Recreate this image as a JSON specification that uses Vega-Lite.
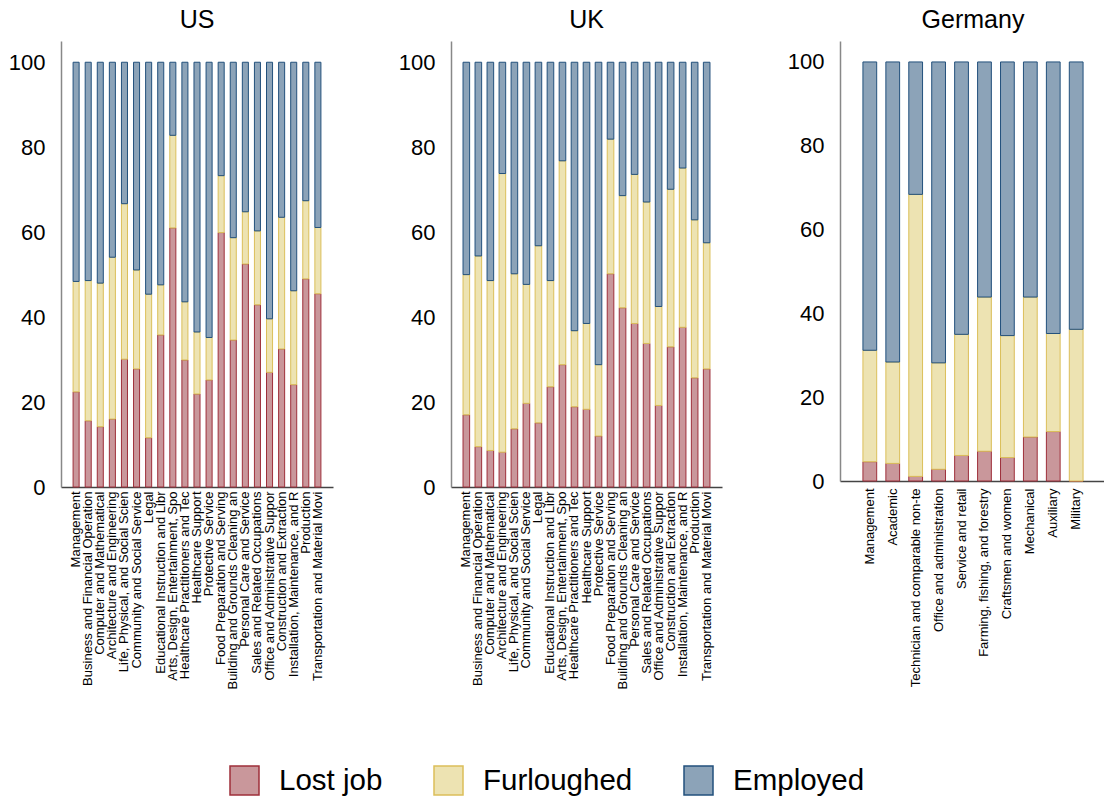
{
  "$schema": "https://vega.github.io/schema/vega-lite/v6.json",
  "background": "white",
  "padding": {"left": 8, "top": 8, "right": 0, "bottom": 0},
  "datasets": {
    "jobs": [
      {"country": "US", "occ": "Management", "Lost job": 22.4, "Furloughed": 26.0, "Employed": 51.6},
      {"country": "US", "occ": "Business and Financial Operation", "Lost job": 15.6, "Furloughed": 33.0, "Employed": 51.4},
      {"country": "US", "occ": "Computer and Mathematical", "Lost job": 14.2, "Furloughed": 33.8, "Employed": 52.0},
      {"country": "US", "occ": "Architecture and Engineering", "Lost job": 16.0, "Furloughed": 38.1, "Employed": 45.9},
      {"country": "US", "occ": "Life, Physical, and Social Scien", "Lost job": 30.1, "Furloughed": 36.6, "Employed": 33.3},
      {"country": "US", "occ": "Community and Social Service", "Lost job": 27.8, "Furloughed": 23.3, "Employed": 48.9},
      {"country": "US", "occ": "Legal", "Lost job": 11.6, "Furloughed": 33.8, "Employed": 54.6},
      {"country": "US", "occ": "Educational Instruction and Libr", "Lost job": 35.8, "Furloughed": 11.8, "Employed": 52.4},
      {"country": "US", "occ": "Arts, Design, Entertainment, Spo", "Lost job": 61.0, "Furloughed": 21.8, "Employed": 17.2},
      {"country": "US", "occ": "Healthcare Practitioners and Tec", "Lost job": 29.9, "Furloughed": 13.7, "Employed": 56.4},
      {"country": "US", "occ": "Healthcare Support", "Lost job": 21.9, "Furloughed": 14.6, "Employed": 63.5},
      {"country": "US", "occ": "Protective Service", "Lost job": 25.2, "Furloughed": 10.0, "Employed": 64.8},
      {"country": "US", "occ": "Food Preparation and Serving", "Lost job": 59.9, "Furloughed": 13.4, "Employed": 26.7},
      {"country": "US", "occ": "Building and Grounds Cleaning an", "Lost job": 34.6, "Furloughed": 24.1, "Employed": 41.3},
      {"country": "US", "occ": "Personal Care and Service", "Lost job": 52.5, "Furloughed": 12.3, "Employed": 35.2},
      {"country": "US", "occ": "Sales and Related Occupations", "Lost job": 42.9, "Furloughed": 17.4, "Employed": 39.7},
      {"country": "US", "occ": "Office and Administrative Suppor", "Lost job": 27.0, "Furloughed": 12.6, "Employed": 60.4},
      {"country": "US", "occ": "Construction and Extraction", "Lost job": 32.5, "Furloughed": 31.0, "Employed": 36.5},
      {"country": "US", "occ": "Installation, Maintenance, and R", "Lost job": 24.1, "Furloughed": 22.1, "Employed": 53.8},
      {"country": "US", "occ": "Production", "Lost job": 49.0, "Furloughed": 18.4, "Employed": 32.6},
      {"country": "US", "occ": "Transportation and Material Movi", "Lost job": 45.5, "Furloughed": 15.6, "Employed": 38.9},
      {"country": "UK", "occ": "Management", "Lost job": 17.0, "Furloughed": 33.0, "Employed": 50.0},
      {"country": "UK", "occ": "Business and Financial Operation", "Lost job": 9.5, "Furloughed": 44.9, "Employed": 45.6},
      {"country": "UK", "occ": "Computer and Mathematical", "Lost job": 8.6, "Furloughed": 40.0, "Employed": 51.4},
      {"country": "UK", "occ": "Architecture and Engineering", "Lost job": 8.2, "Furloughed": 65.6, "Employed": 26.2},
      {"country": "UK", "occ": "Life, Physical, and Social Scien", "Lost job": 13.7, "Furloughed": 36.5, "Employed": 49.8},
      {"country": "UK", "occ": "Community and Social Service", "Lost job": 19.7, "Furloughed": 28.0, "Employed": 52.3},
      {"country": "UK", "occ": "Legal", "Lost job": 15.1, "Furloughed": 41.7, "Employed": 43.2},
      {"country": "UK", "occ": "Educational Instruction and Libr", "Lost job": 23.6, "Furloughed": 25.0, "Employed": 51.4},
      {"country": "UK", "occ": "Arts, Design, Entertainment, Spo", "Lost job": 28.8, "Furloughed": 48.0, "Employed": 23.2},
      {"country": "UK", "occ": "Healthcare Practitioners and Tec", "Lost job": 18.9, "Furloughed": 17.9, "Employed": 63.2},
      {"country": "UK", "occ": "Healthcare Support", "Lost job": 18.3, "Furloughed": 20.2, "Employed": 61.5},
      {"country": "UK", "occ": "Protective Service", "Lost job": 12.0, "Furloughed": 16.8, "Employed": 71.2},
      {"country": "UK", "occ": "Food Preparation and Serving", "Lost job": 50.2, "Furloughed": 31.7, "Employed": 18.1},
      {"country": "UK", "occ": "Building and Grounds Cleaning an", "Lost job": 42.2, "Furloughed": 26.4, "Employed": 31.4},
      {"country": "UK", "occ": "Personal Care and Service", "Lost job": 38.5, "Furloughed": 35.1, "Employed": 26.4},
      {"country": "UK", "occ": "Sales and Related Occupations", "Lost job": 33.8, "Furloughed": 33.3, "Employed": 32.9},
      {"country": "UK", "occ": "Office and Administrative Suppor", "Lost job": 19.2, "Furloughed": 23.3, "Employed": 57.5},
      {"country": "UK", "occ": "Construction and Extraction", "Lost job": 33.0, "Furloughed": 37.1, "Employed": 29.9},
      {"country": "UK", "occ": "Installation, Maintenance, and R", "Lost job": 37.6, "Furloughed": 37.5, "Employed": 24.9},
      {"country": "UK", "occ": "Production", "Lost job": 25.7, "Furloughed": 37.2, "Employed": 37.1},
      {"country": "UK", "occ": "Transportation and Material Movi", "Lost job": 27.8, "Furloughed": 29.7, "Employed": 42.5},
      {"country": "Germany", "occ": "Management", "Lost job": 4.6, "Furloughed": 26.6, "Employed": 68.8},
      {"country": "Germany", "occ": "Academic", "Lost job": 4.2, "Furloughed": 24.2, "Employed": 71.6},
      {"country": "Germany", "occ": "Technician and comparable non-te", "Lost job": 1.1, "Furloughed": 67.3, "Employed": 31.6},
      {"country": "Germany", "occ": "Office and administration", "Lost job": 2.8, "Furloughed": 25.4, "Employed": 71.8},
      {"country": "Germany", "occ": "Service and retail", "Lost job": 6.1, "Furloughed": 28.9, "Employed": 65.0},
      {"country": "Germany", "occ": "Farming, fishing, and forestry", "Lost job": 7.1, "Furloughed": 36.8, "Employed": 56.1},
      {"country": "Germany", "occ": "Craftsmen and women", "Lost job": 5.6, "Furloughed": 29.1, "Employed": 65.3},
      {"country": "Germany", "occ": "Mechanical", "Lost job": 10.5, "Furloughed": 33.4, "Employed": 56.1},
      {"country": "Germany", "occ": "Auxiliary", "Lost job": 11.8, "Furloughed": 23.4, "Employed": 64.8},
      {"country": "Germany", "occ": "Military", "Lost job": 0.0, "Furloughed": 36.2, "Employed": 63.8}
    ]
  },
  "data": {"name": "jobs"},
  "spacing": 65,
  "hconcat": [
    {
      "title": "US",
      "width": 272,
      "height": 446,
      "transform": [
        {"filter": "datum.country == 'US'"},
        {"fold": ["Lost job", "Furloughed", "Employed"], "as": ["status", "share"]}
      ],
      "mark": {"type": "bar", "strokeWidth": 1},
      "encoding": {
        "x": {
          "field": "occ", "type": "nominal", "sort": null,
          "scale": {"paddingInner": 0.5, "paddingOuter": 1},
          "axis": {"labelFontSize": 13}
        },
        "y": {
          "field": "share", "type": "quantitative", "stack": "zero",
          "scale": {"domain": [0, 105], "nice": false},
          "axis": {"values": [0, 20, 40, 60, 80, 100]}
        },
        "fill": {
          "field": "status", "type": "nominal",
          "scale": {"domain": ["Lost job", "Furloughed", "Employed"], "range": ["#C9979B", "#EDE3B2", "#8CA3B8"]}
        },
        "stroke": {
          "field": "status", "type": "nominal",
          "scale": {"domain": ["Lost job", "Furloughed", "Employed"], "range": ["#9E2F3A", "#DBBF5A", "#22507C"]}
        }
      }
    },
    {
      "title": "UK",
      "width": 271,
      "height": 446,
      "transform": [
        {"filter": "datum.country == 'UK'"},
        {"fold": ["Lost job", "Furloughed", "Employed"], "as": ["status", "share"]}
      ],
      "mark": {"type": "bar", "strokeWidth": 1},
      "encoding": {
        "x": {
          "field": "occ", "type": "nominal", "sort": null,
          "scale": {"paddingInner": 0.45, "paddingOuter": 1},
          "axis": {"labelFontSize": 13}
        },
        "y": {
          "field": "share", "type": "quantitative", "stack": "zero",
          "scale": {"domain": [0, 105], "nice": false},
          "axis": {"values": [0, 20, 40, 60, 80, 100]}
        },
        "fill": {
          "field": "status", "type": "nominal",
          "scale": {"domain": ["Lost job", "Furloughed", "Employed"], "range": ["#C9979B", "#EDE3B2", "#8CA3B8"]}
        },
        "stroke": {
          "field": "status", "type": "nominal",
          "scale": {"domain": ["Lost job", "Furloughed", "Employed"], "range": ["#9E2F3A", "#DBBF5A", "#22507C"]}
        }
      }
    },
    {
      "title": "Germany",
      "width": 266,
      "height": 440,
      "transform": [
        {"filter": "datum.country == 'Germany'"},
        {"fold": ["Lost job", "Furloughed", "Employed"], "as": ["status", "share"]}
      ],
      "mark": {"type": "bar", "strokeWidth": 1},
      "encoding": {
        "x": {
          "field": "occ", "type": "nominal", "sort": null,
          "scale": {"paddingInner": 0.4, "paddingOuter": 1.0},
          "axis": {"labelFontSize": 13, "labelPadding": 7}
        },
        "y": {
          "field": "share", "type": "quantitative", "stack": "zero",
          "scale": {"domain": [0, 105], "nice": false},
          "axis": {"values": [0, 20, 40, 60, 80, 100]}
        },
        "fill": {
          "field": "status", "type": "nominal",
          "scale": {"domain": ["Lost job", "Furloughed", "Employed"], "range": ["#C9979B", "#EDE3B2", "#8CA3B8"]}
        },
        "stroke": {
          "field": "status", "type": "nominal",
          "scale": {"domain": ["Lost job", "Furloughed", "Employed"], "range": ["#9E2F3A", "#DBBF5A", "#22507C"]}
        }
      }
    }
  ],
  "resolve": {"scale": {"x": "independent", "y": "independent"}},
  "config": {
    "font": "Liberation Sans",
    "view": {"stroke": null},
    "title": {"fontSize": 25, "fontWeight": "normal", "color": "black", "anchor": "middle", "offset": 8},
    "axisX": {
      "title": null, "labelAngle": -90, "ticks": false, "labelPadding": 4,
      "labelColor": "black", "labelLimit": 400, "labelOverlap": false, "labelBound": false,
      "domainColor": "#444", "domainWidth": 1.5
    },
    "axisY": {
      "title": null, "grid": false, "ticks": false,
      "labelFontSize": 22, "labelPadding": 16, "labelColor": "black",
      "domainColor": "#888", "domainWidth": 1.5
    },
    "legend": {
      "title": null,
      "orient": "none",
      "direction": "horizontal",
      "legendX": 168,
      "legendY": 724,
      "symbolType": "square",
      "symbolSize": 841,
      "symbolStrokeWidth": 1.5,
      "symbolOpacity": 1,
      "labelFontSize": 29.5,
      "labelColor": "black",
      "labelOffset": 19,
      "columnPadding": 48
    }
  }
}
